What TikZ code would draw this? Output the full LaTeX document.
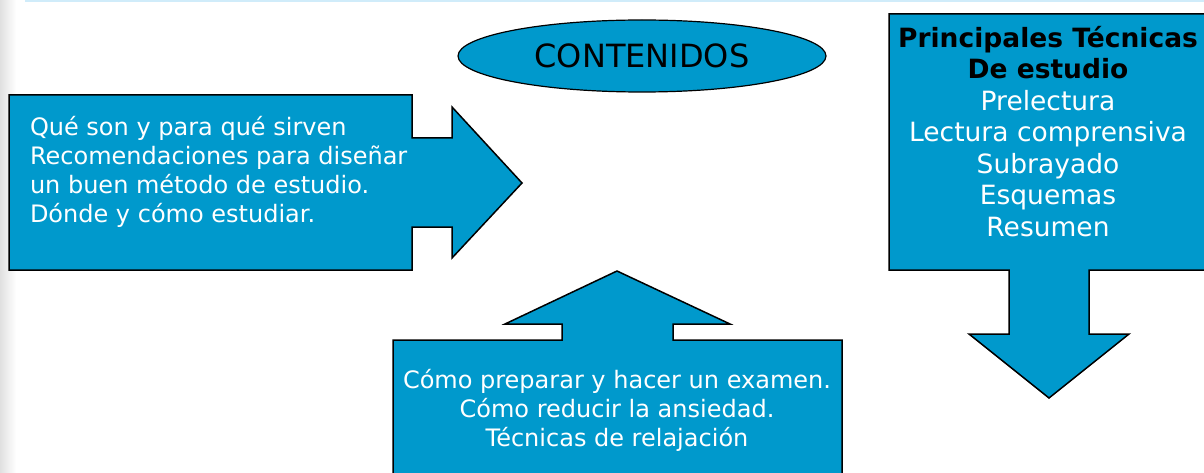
\documentclass[tikz,border=0pt]{standalone}
\usepackage{fontspec}
\setmainfont{DejaVu Sans}
\usepackage{tikz}
\usetikzlibrary{shapes,positioning}
\definecolor{azul}{RGB}{0,153,204}
\definecolor{lineablue}{RGB}{208,236,250}

\begin{document}
\begin{tikzpicture}[x=1pt,y=-1pt,outer sep=0pt,inner sep=0pt]
        \tikzset{callout/.style={fill=azul,draw=black,line width=1.5pt,line join=miter}}
        \tikzset{txt/.style={text=white,font=\fontsize{24}{29}\selectfont}}

        \useasboundingbox (0,0) rectangle (1204,473);
        \clip (0,0) rectangle (1204,473);
        \shade[left color=black!12,right color=white] (0,0) rectangle (16,473);
        \fill[lineablue] (25,0) rectangle (1204,2.5);

        % izquierda
        \draw[callout] (9,95) -- (412,95) -- (412,138) -- (452,138) -- (452,107) -- (522,183)
            -- (452,258) -- (452,227) -- (412,227) -- (412,270) -- (9,270) -- cycle;
        % abajo
        \draw[callout] (393,480) -- (393,340) -- (562,340) -- (562,324) -- (505,324) -- (617,271)
            -- (730,324) -- (673,324) -- (673,340) -- (842,340) -- (842,480) -- cycle;
        % derecha
        \draw[callout] (1212,14) -- (889,14) -- (889,270) -- (1009,270) -- (1009,334) -- (969,334)
            -- (1049,398) -- (1129,334) -- (1089,334) -- (1089,270) -- (1212,270) -- cycle;

        \node [ellipse,fill=azul,draw=black,line width=1.2pt,minimum width=368pt,minimum height=72pt,
            font=\fontsize{32}{38}\selectfont] (contenidos) at (642,56) {CONTENIDOS};

        \node [txt,align=left,anchor=north west] (queson) at (30,116)
            {Qué son y para qué sirven\\Recomendaciones para diseñar\\un buen método de estudio.\\Dónde y cómo estudiar.};
        \node [txt,align=center] (examen) at (617,410.5)
            {Cómo preparar y hacer un examen.\\Cómo reducir la ansiedad.\\Técnicas de relajación};
        \node [txt,align=center,font=\fontsize{26.5}{31.5}\selectfont] (tecnicas) at (1048,131.5)
            {\textbf{\color{black}Principales Técnicas}\\\textbf{\color{black}De estudio}\\Prelectura\\Lectura comprensiva\\Subrayado\\Esquemas\\Resumen};
\end{tikzpicture}
\end{document}
